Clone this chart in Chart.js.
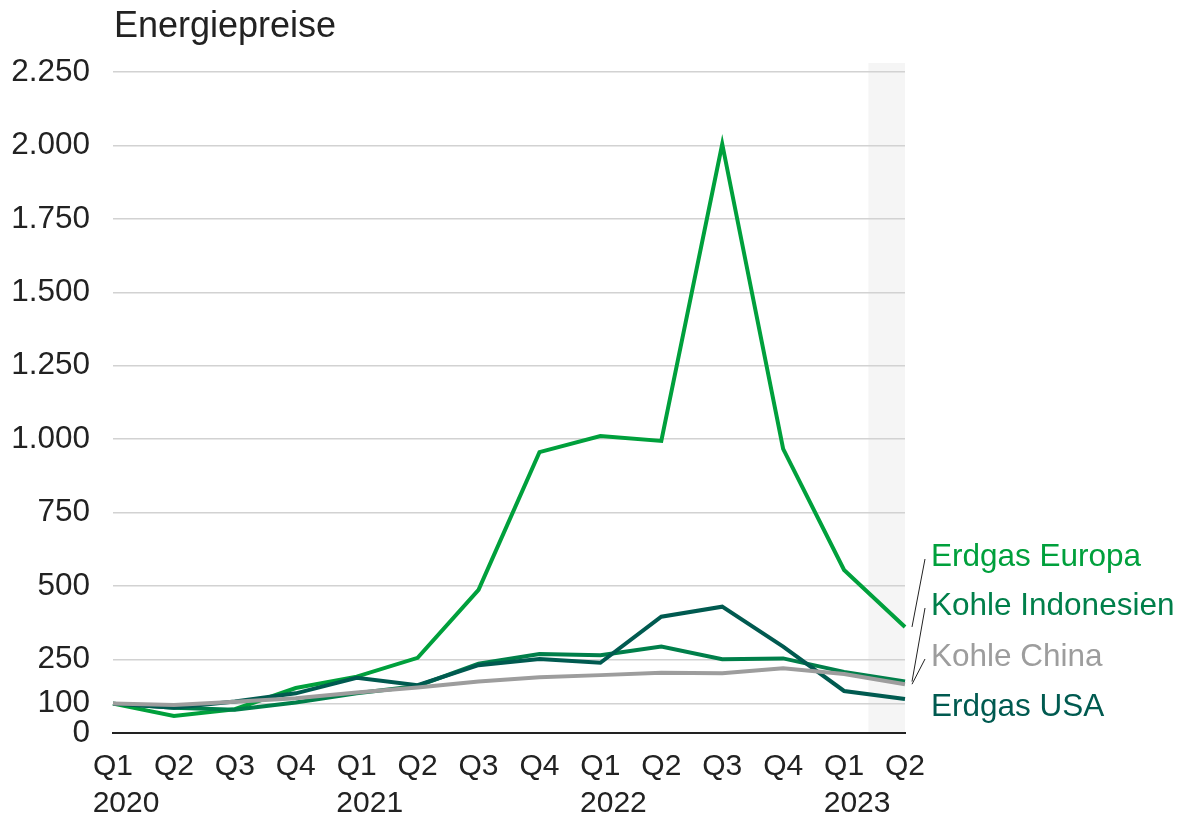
<!DOCTYPE html>
<html>
<head>
<meta charset="utf-8">
<script src="https://cdn.jsdelivr.net/npm/chart.js@4"></script>
<style>
	body { margin: 0; background: #fff; }
	#wrap { width: 1181px; height: 820px; }
</style>
</head>
<body>
<div id="wrap"><canvas id="chart-energiepreise" width="1181" height="820"></canvas></div>
<script>
// Quartale Q1 2020 bis Q2 2023
var quartale = ["Q1", "Q2", "Q3", "Q4", "Q1", "Q2", "Q3", "Q4", "Q1", "Q2", "Q3", "Q4", "Q1", "Q2"];
var jahre = ["2020", "", "", "", "2021", "", "", "", "2022", "", "", "", "2023", ""];
var yTicks = [0, 100, 250, 500, 750, 1000, 1250, 1500, 1750, 2000, 2250];

var erdgasEuropa = [100, 58, 81, 153, 192, 256, 487, 956, 1011, 994, 2005, 967, 555, 361];
var kohleIndonesien = [100, 86, 79, 104, 135, 160, 236, 269, 265, 294, 251, 254, 208, 175];
var kohleChina = [100, 95, 106, 118, 138, 155, 175, 190, 197, 205, 203, 220, 201, 166];
var erdgasUSA = [100, 86, 107, 135, 188, 163, 231, 252, 239, 396, 430, 294, 143, 116];

var serien = ["Erdgas Europa", "Kohle Indonesien", "Kohle China", "Erdgas USA"];
var farben = ["#00a03c", "#007f4a", "#9d9d9d", "#005a50"];

var FONT = "'Liberation Sans', Arial, sans-serif";

function formatZahl(v)
{
	return String(v).replace(/\B(?=(\d{3})+(?!\d))/g, ".");
}

// grauer Balken hinter dem letzten Quartal
var bandPlugin = {
	id: "band",
	beforeDraw: function(chart)
	{
		var ctx = chart.ctx;
		var x = chart.scales.x;
		var area = chart.chartArea;
		var last = x.getPixelForValue(quartale.length - 1);
		var step = last - x.getPixelForValue(quartale.length - 2);
		ctx.save();
		ctx.fillStyle = "#f5f5f5";
		ctx.fillRect(last - 0.6 * step, area.top - 9, 0.6 * step, area.bottom - area.top + 9);
		ctx.restore();
	}
};

// Titel, Jahreszahlen und Beschriftungen rechts
var textPlugin = {
	id: "texte",
	afterDraw: function(chart)
	{
		var ctx = chart.ctx;
		var x = chart.scales.x;
		var y = chart.scales.y;
		ctx.save();

		ctx.fillStyle = "#222";
		ctx.font = "36px " + FONT;
		ctx.textAlign = "left";
		ctx.textBaseline = "middle";
		ctx.fillText("Energiepreise", 114, 27);

		ctx.font = "30px " + FONT;
		ctx.textAlign = "center";
		for (var i = 0; i < jahre.length; i++)
		{
			if (jahre[i])
			{
				ctx.fillText(jahre[i], x.getPixelForValue(i) + 13, 804);
			}
		}

		var daten = [erdgasEuropa, kohleIndonesien, kohleChina, erdgasUSA];
		var labelY = [557, 606, 657, 707];
		var xEnd = x.getPixelForValue(quartale.length - 1);
		ctx.font = "31.5px " + FONT;
		ctx.textAlign = "left";
		for (var k = 0; k < serien.length; k++)
		{
			var yEnd = y.getPixelForValue(daten[k][daten[k].length - 1]);
			if (k < 3)
			{
				ctx.strokeStyle = "#222";
				ctx.lineWidth = 1;
				ctx.beginPath();
				ctx.moveTo(xEnd + 7, yEnd);
				ctx.lineTo(xEnd + 20, labelY[k] + 2);
				ctx.stroke();
			}
			ctx.fillStyle = farben[k];
			ctx.fillText(serien[k], 931, labelY[k]);
		}
		ctx.restore();
	}
};

var datasets = [erdgasEuropa, kohleIndonesien, kohleChina, erdgasUSA].map(function(werte, i)
{
	return {
		label: serien[i],
		data: werte,
		borderColor: farben[i],
		backgroundColor: farben[i],
		borderWidth: 4,
		pointRadius: 0,
		tension: 0,
		order: [4, 3, 1, 2][i]
	};
});

new Chart("chart-energiepreise", {
	type: "line",
	data: {
		labels: quartale,
		datasets: datasets
	},
	options: {
		responsive: false,
		animation: false,
		layout: { padding: { top: 72, right: 276, bottom: 0, left: 0 } },
		plugins: {
			legend: { display: false },
			tooltip: { enabled: false }
		},
		scales: {
			x: {
				offset: false,
				grid: { display: false, drawTicks: false },
				border: { display: true, color: "#222", width: 2 },
				ticks: {
					color: "#222",
					font: { family: FONT, size: 30 },
					padding: 16,
					maxRotation: 0,
					autoSkip: false
				},
				afterFit: function(scale) { scale.height = 87; }
			},
			y: {
				min: 0,
				max: 2250,
				afterBuildTicks: function(scale)
				{
					scale.ticks = yTicks.map(function(v) { return { value: v }; });
				},
				grid: {
					drawTicks: false,
					lineWidth: 1.5,
					color: function(c) { return c.tick && c.tick.value === 0 ? "rgba(0,0,0,0)" : "#d2d2d2"; }
				},
				border: { display: false },
				ticks: {
					color: "#222",
					font: { family: FONT, size: 31.5 },
					padding: 23,
					callback: function(v) { return formatZahl(v); }
				},
				afterFit: function(scale) { scale.width = 113; }
			}
		}
	},
	plugins: [bandPlugin, textPlugin]
});
</script>
</body>
</html>
